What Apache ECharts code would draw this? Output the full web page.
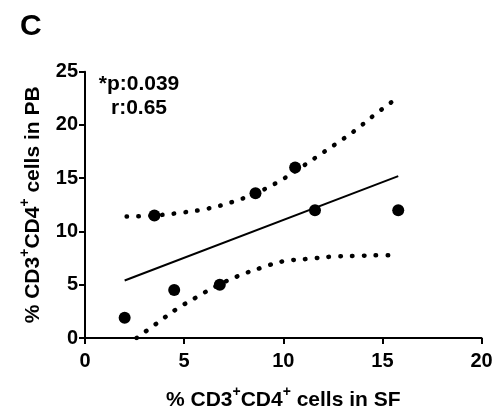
<!DOCTYPE html>
<html>
<head>
<meta charset="utf-8">
<script src="https://cdn.jsdelivr.net/npm/echarts@6/dist/echarts.min.js"></script>
<style>
html,body{margin:0;padding:0;background:#fff;}
#chart{width:497px;height:416px;}
</style>
</head>
<body>
<div id="chart"></div>
<script>
// Data
var sfValues = [2.0, 3.5, 4.5, 6.8, 8.6, 10.6, 11.6, 15.8];
var pbValues = [1.9, 11.5, 4.5, 5.0, 13.6, 16.0, 12.0, 12.0];
var fitX = [2.0, 15.8];
var fitY = [5.4, 15.2];
var upperX = [2.1, 3.5, 5.0, 6.2, 7.4, 8.5, 9.6, 10.6, 11.6, 12.6, 13.6, 14.5, 15.5];
var upperY = [11.4, 11.5, 11.8, 12.15, 12.75, 13.5, 14.5, 15.65, 16.9, 18.15, 19.45, 20.8, 22.2];
var lowerX = [2.6, 3.6, 4.6, 5.6, 6.6, 7.7, 8.9, 10.0, 11.2, 12.4, 13.6, 14.8, 15.4];
var lowerY = [0.0, 1.35, 2.7, 3.8, 4.85, 5.8, 6.6, 7.2, 7.42, 7.63, 7.7, 7.76, 7.76];
var xTicks = [0, 5, 10, 15, 20];
var yTicks = [0, 5, 10, 15, 20, 25];
var panelLabel = 'C';
var statsLines = ['*p:0.039', 'r:0.65'];

function pairs(xs, ys) { return xs.map(function (x, i) { return [x, ys[i]]; }); }

var FONT = 'Liberation Sans, Arial, sans-serif';
var chart = echarts.init(document.getElementById('chart'), null, {renderer: 'canvas'});
var axisCommon = {
  type: 'value',
  axisLine: {show: true, onZero: false, lineStyle: {color: '#000', width: 2}},
  axisTick: {show: true, length: 6, lineStyle: {color: '#000', width: 2}},
  splitLine: {show: false},
  axisLabel: {color: '#000', fontFamily: FONT, fontWeight: 'bold', fontSize: 20},
  nameLocation: 'middle'
};
var richName = {
  b: {color: '#000', fontFamily: FONT, fontWeight: 'bold', fontSize: 21, lineHeight: 30},
  sup: {color: '#000', fontFamily: FONT, fontWeight: 'bold', fontSize: 14, lineHeight: 14, verticalAlign: 'top'}
};
var option = {
  backgroundColor: '#fff',
  animation: false,
  grid: {left: 85, right: 15.5, top: 71.7, bottom: 76.7, containLabel: false},
  xAxis: Object.assign({}, axisCommon, {
    min: xTicks[0], max: xTicks[xTicks.length - 1], interval: 5,
    axisLabel: Object.assign({}, axisCommon.axisLabel, {margin: 13}),
    name: '{b|% CD3}{sup|+}{b|CD4}{sup|+}{b| cells in SF}',
    nameGap: 47.5,
    nameTextStyle: {rich: richName}
  }),
  yAxis: Object.assign({}, axisCommon, {
    min: yTicks[0], max: yTicks[yTicks.length - 1], interval: 5,
    axisLabel: Object.assign({}, axisCommon.axisLabel, {margin: 7}),
    name: '{b|% CD3}{sup|+}{b|CD4}{sup|+}{b| cells in PB}',
    nameGap: 36.5,
    nameTextStyle: {rich: richName}
  }),
  graphic: [
    {type: 'text', left: 20, top: 12, style: {text: panelLabel, fill: '#000', font: 'bold 30px ' + FONT}},
    {type: 'text', x: 139, y: 84, style: {text: statsLines[0], fill: '#000', font: 'bold 21px ' + FONT, align: 'center', verticalAlign: 'middle'}},
    {type: 'text', x: 139, y: 108, style: {text: statsLines[1], fill: '#000', font: 'bold 21px ' + FONT, align: 'center', verticalAlign: 'middle'}}
  ],
  series: [
    {type: 'line', data: pairs(upperX, upperY), smooth: 0.4, symbol: 'none', z: 2,
     lineStyle: {color: '#000', width: 4.5, type: [0.5, 11.3], cap: 'round'}},
    {type: 'line', data: pairs(lowerX, lowerY), smooth: 0.4, symbol: 'none', z: 2,
     lineStyle: {color: '#000', width: 4.5, type: [0.5, 11.3], cap: 'round'}},
    {type: 'line', data: pairs(fitX, fitY), symbol: 'none', z: 3,
     lineStyle: {color: '#000', width: 2, type: 'solid'}},
    {type: 'scatter', data: pairs(sfValues, pbValues), symbol: 'circle', symbolSize: 12, z: 4,
     itemStyle: {color: '#000', opacity: 1}}
  ]
};
chart.setOption(option);
</script>
</body>
</html>
